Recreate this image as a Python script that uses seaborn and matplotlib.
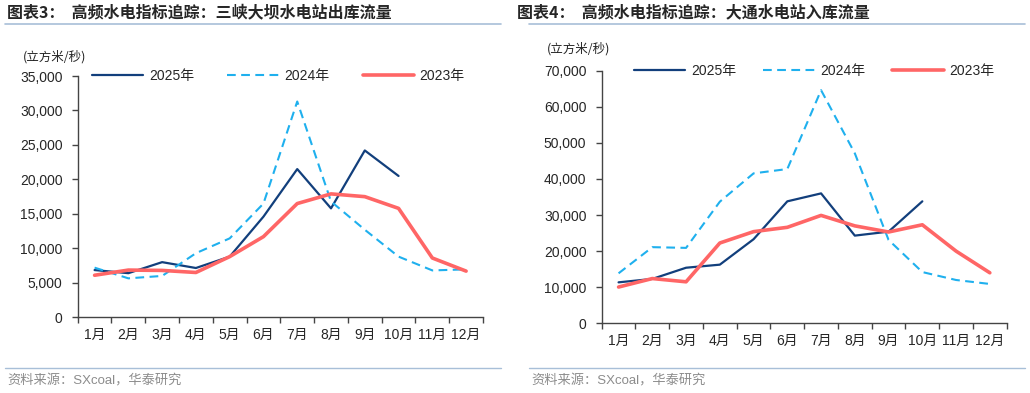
import numpy as np
import pandas as pd
import matplotlib
matplotlib.use('Agg')
import matplotlib.pyplot as plt
from matplotlib.lines import Line2D
import seaborn as sns

# data (立方米/秒)
months = ['1月', '2月', '3月', '4月', '5月', '6月', '7月', '8月', '9月', '10月', '11月', '12月']

# 三峡大坝 出库流量
sx_2025 = [6850, 6400, 8000, 7150, 8800, 14600, 21500, 15800, 24200, 20500]
sx_2024 = [7200, 5650, 6000, 9300, 11450, 16500, 31300, 16800, 12700, 8800, 6800, 6950]
sx_2023 = [6100, 6850, 6800, 6500, 8800, 11700, 16500, 17900, 17500, 15800, 8600, 6700]

# 大通 入库流量
dt_2025 = [11350, 12300, 15400, 16250, 23300, 33800, 36000, 24300, 25400, 33800]
dt_2024 = [13850, 21100, 20900, 33700, 41550, 42750, 64600, 47100, 23100, 14200, 12000, 10900]
dt_2023 = [10050, 12400, 11500, 22250, 25400, 26600, 29900, 27000, 25300, 27300, 20000, 14000]

years = ['2025年', '2024年', '2023年']
colors = ['#123f7c', '#1fb0ee', '#ff6666']
widths = [1.6, 1.5, 2.6]
styles = ['-', (0, (4.2, 2.6)), '-']

sns.set_theme(style='white')
plt.rcParams['font.family'] = ['Liberation Sans', 'Noto Sans CJK SC']
plt.rcParams['axes.unicode_minus'] = False
cjk = ['Noto Sans CJK SC', 'Liberation Sans']
latin_first = ['Liberation Sans', 'Noto Sans CJK SC']

fig = plt.figure(figsize=(10.3, 3.93), dpi=100)
W, H = 1030, 393


def px_axes(x0, x1, ytop, ybot):
    return fig.add_axes([x0 / W, 1 - ybot / H, (x1 - x0) / W, (ybot - ytop) / H])


def draw(ax, series, ymax, step, leg_x, colspace):
    for i, vals in enumerate(series):
        df = pd.DataFrame({'month': np.arange(len(vals)), 'flow': vals})
        sns.lineplot(data=df, x='month', y='flow', ax=ax, color=colors[i],
                     lw=widths[i], linestyle=styles[i], zorder=3 + i)
    ax.set_xlim(-0.5, 11.5)
    ax.set_ylim(0, ymax)
    ax.set_yticks(np.arange(0, ymax + 1, step))
    ax.set_yticklabels([f'{v:,}' for v in np.arange(0, ymax + 1, step)], fontsize=10)
    ax.set_xticks(np.arange(-0.5, 12, 1))
    ax.set_xticklabels([])
    ax.set_xticks(np.arange(12), minor=True)
    ax.set_xticklabels(months, minor=True, fontsize=10)
    ax.tick_params(axis='x', which='major', direction='out', length=4, width=1, color='#444444', bottom=True)
    ax.tick_params(axis='x', which='minor', length=0, pad=8)
    ax.tick_params(axis='y', direction='out', length=4, width=1, color='#444444', left=True, pad=7)
    ax.set_xlabel('')
    ax.set_ylabel('')
    for s in ['top', 'right']:
        ax.spines[s].set_visible(False)
    for s in ['left', 'bottom']:
        ax.spines[s].set_color('#444444')
        ax.spines[s].set_linewidth(1)
    handles = [Line2D([], [], color=colors[i], lw=widths[i], linestyle=styles[i]) for i in range(3)]
    ax.legend(handles, years, ncol=3, frameon=False, loc='center left',
              bbox_to_anchor=(leg_x, 1.0), borderpad=0, borderaxespad=0,
              handlelength=3.7, handletextpad=0.4, columnspacing=colspace, fontsize=10)


ax1 = px_axes(77.7, 483, 76, 317.3)
draw(ax1, [sx_2025, sx_2024, sx_2023], 35000, 5000, 0.035, 2.4)

ax2 = px_axes(601.7, 1006.7, 70.7, 323.3)
draw(ax2, [dt_2025, dt_2024, dt_2023], 70000, 10000, 0.08, 1.95)

# titles, unit labels, separator lines, sources
line_col = '#a8bfd8'
fig.text(7 / W, 1 - 12 / H, '图表3：  高频水电指标追踪：三峡大坝水电站出库流量', fontsize=11.5,
         fontweight='bold', family=cjk, va='center', ha='left')
fig.text(517 / W, 1 - 12 / H, '图表4：  高频水电指标追踪：大通水电站入库流量', fontsize=11.5,
         fontweight='bold', family=cjk, va='center', ha='left')
fig.text(23 / W, 1 - 57 / H, '(立方米/秒)', fontsize=9, family=cjk, va='center', ha='left')
fig.text(547 / W, 1 - 49 / H, '(立方米/秒)', fontsize=9, family=cjk, va='center', ha='left')
for x0, x1 in [(5, 501), (529, 1025)]:
    fig.add_artist(Line2D([x0 / W, x1 / W], [1 - 24 / H] * 2, color=line_col, lw=1.2))
    fig.add_artist(Line2D([x0 / W, x1 / W], [1 - 368 / H] * 2, color=line_col, lw=1.0))
fig.text(7 / W, 1 - 381 / H, '资料来源：SXcoal，华泰研究', fontsize=9.5, color='#8c8c8c',
         family=latin_first, va='center', ha='left')
fig.text(531 / W, 1 - 381 / H, '资料来源：SXcoal，华泰研究', fontsize=9.5, color='#8c8c8c',
         family=latin_first, va='center', ha='left')

plt.savefig('out.png', dpi=100)
